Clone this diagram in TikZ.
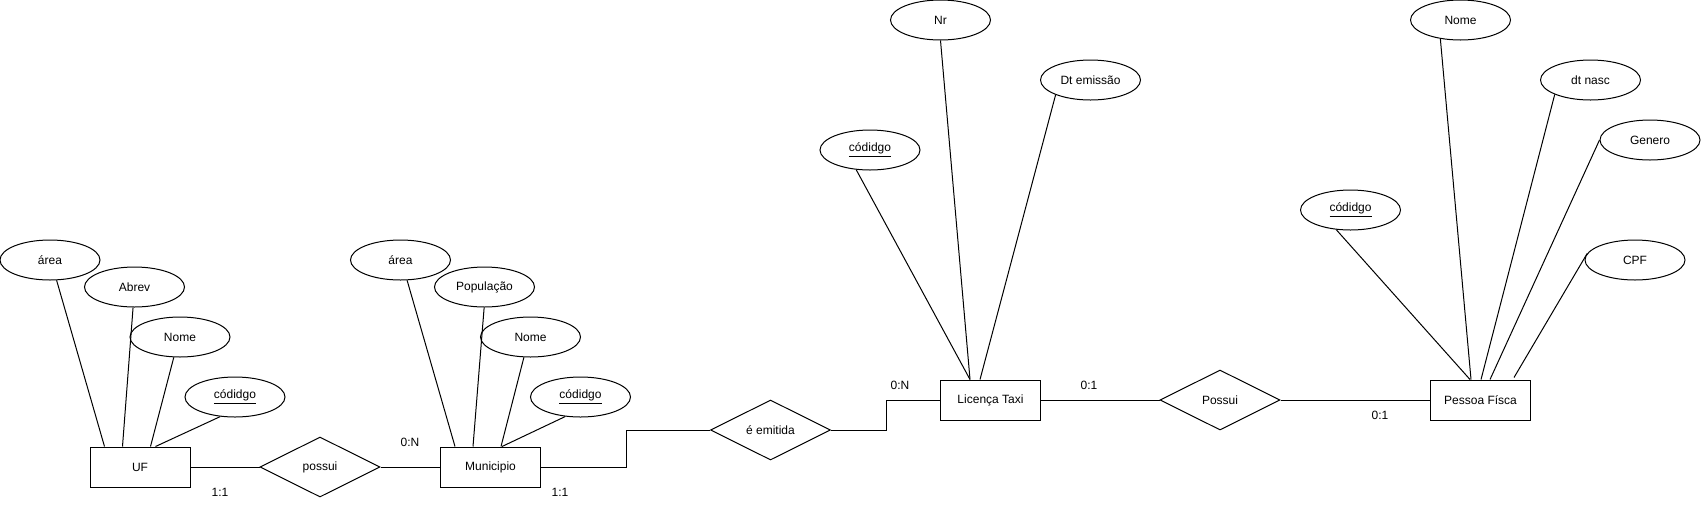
\documentclass[tikz,border=0pt]{standalone}
\usepackage{fontspec}
\setmainfont{Liberation Sans}
\usetikzlibrary{shapes.geometric,calc}
\begin{document}
\begin{tikzpicture}[x=0.75pt,y=-0.75pt,line width=0.75pt,
  every node/.style={font=\fontsize{9pt}{11pt}\selectfont},
  ent/.style={draw,rectangle,inner sep=0pt,minimum height=30pt,minimum width=75pt},
  attr/.style={draw,ellipse,inner sep=0pt,minimum height=30pt,minimum width=75pt},
  rel/.style={draw,diamond,inner sep=0pt,minimum height=45pt,minimum width=90pt},
  card/.style={inner sep=0pt}]
\useasboundingbox (0,0) rectangle (1701,508);
% UF
\node[ent] (uf) at (140,467) {UF};
\node[attr] (ufa) at (50,260) {área};
\node[attr] (ufb) at (134.5,287) {Abrev};
\node[attr] (ufn) at (180,337) {Nome};
\node[attr] (ufc) at (235,397) {\underline{códidgo}};
\draw (ufa.288) -- ($(uf.north west)+(15,0)$);
\draw (ufb.266) -- ($(uf.north west)+(33,0)$);
\draw (ufn.253) -- ($(uf.north west)+(61,0)$);
\draw (ufc.233) -- ($(uf.north west)+(66,0)$);
% possui
\node[rel] (pos1) at (320,467) {possui};
% Municipio
\node[ent] (mun) at (490.5,467) {Municipio};
\node[attr] (mua) at (400.5,260) {área};
\node[attr] (mup) at (484.5,287) {População};
\node[attr] (mun2) at (530.5,337) {Nome};
\node[attr] (muc) at (580.5,397) {\underline{códidgo}};
\draw (mua.288) -- ($(mun.north west)+(15,0)$);
\draw (mup.269) -- ($(mun.north west)+(33,0)$);
\draw (mun2.252) -- ($(mun.north west)+(61,0)$);
\draw (muc.232) -- ($(mun.north west)+(62,0)$);
% é emitida
\node[rel] (emit) at (770.5,430) {é emitida};
% Licença Taxi
\node[ent] (lic) at (990.5,400) {Licença Taxi};
\node[attr] (lin) at (940.5,20) {Nr};
\node[attr] (lid) at (1090.5,80) {Dt emissão};
\node[attr] (lic2) at (870,150) {\underline{códidgo}};
\draw (lin.270) -- ($(lic.north west)+(30,0)$);
\draw (lic2.235) -- ($(lic.north west)+(30,0)$);
\draw (lid.203) -- ($(lic.north west)+(40,0)$);
% Possui
\node[rel] (pos2) at (1220,400) {Possui};
% Pessoa Físca
\node[ent] (pf) at (1480.5,400) {Pessoa Físca};
\node[attr] (pfn) at (1460.5,20) {Nome};
\node[attr] (pfd) at (1590.5,80) {dt nasc};
\node[attr] (pfg) at (1650,140) {Genero};
\node[attr] (pfp) at (1635,260) {CPF};
\node[attr] (pfc) at (1350.5,210) {\underline{códidgo}};
\draw (pfn.223) -- ($(pf.north west)+(41,0)$);
\draw (pfd.202) -- ($(pf.north west)+(51,0)$);
\draw (pfg.180) -- ($(pf.north west)+(60,0)$);
\draw (pfp.172) -- ($(pf.north west)+(84,-2)$);
\draw (pfc.234) -- ($(pf.north west)+(40,0)$);
% connectors
\draw (uf.east) -- (pos1.west);
\draw (pos1.east) -- (mun.west);
\draw (mun.east) -| ($(emit.west)+(-84,0)$) -- (emit.west);
\draw (emit.east) -| ($(lic.west)+(-54,0)$) -- (lic.west);
\draw (lic.east) -- (pos2.west);
\draw (pos2.east) -- (pf.west);
% cardinalities
\node[card] (c1) at (220,492) {1:1};
\node[card] (c2) at (410,442) {0:N};
\node[card] (c3) at (560,492) {1:1};
\node[card] (c4) at (900,385) {0:N};
\node[card] (c5) at (1089,385) {0:1};
\node[card] (c6) at (1380,415) {0:1};
\end{tikzpicture}
\end{document}
